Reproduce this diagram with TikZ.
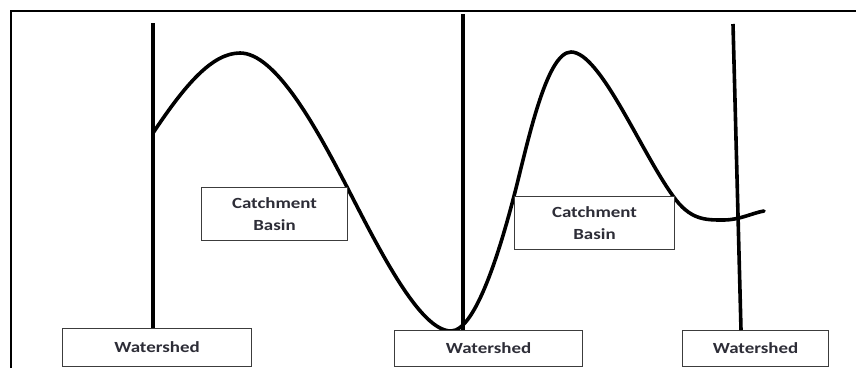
\documentclass[tikz,border=0pt]{standalone}
\usepackage{fontspec}
\newfontfamily\labfont[FakeStretch=1.22]{Carlito}
\definecolor{txt}{RGB}{45,45,55}
\definecolor{boxline}{RGB}{60,60,60}
\begin{document}
\begin{tikzpicture}[x=1pt,y=-1pt,
  lbl/.style={draw=boxline,line width=1pt,fill=white,font=\labfont\bfseries\fontsize{15.5}{22}\selectfont,text=txt,align=center,inner sep=0pt,anchor=north west},
  ridge/.style={line width=3.6pt},
  curve/.style={line width=3.6pt,line cap=round,line join=round}]
\useasboundingbox (0,0) rectangle (856,368);
\fill[white] (0,0) rectangle (856,368);
% frame
\draw[line width=2pt] (11,368) -- (11,11) -- (856,11);
% curve
\draw[curve] (153,133) .. controls (185,85) and (212,53) .. (240,53)
  .. controls (275,53) and (315,125) .. (347,187)
  .. controls (380,251) and (420,331) .. (451,331)
  .. controls (476,331) and (501,246) .. (514,196)
  .. controls (527,146) and (546,52) .. (571,52)
  .. controls (600,52) and (640,150) .. (673,196)
  .. controls (690,220) and (705,220) .. (723,220)
  .. controls (740,220) and (752,213) .. (764,211);
% boxes
\node[lbl,minimum width=146pt,minimum height=53pt] (cb1) at (201,187) {Catchment\\Basin};
\node[lbl,minimum width=160pt,minimum height=53pt] (cb2) at (514,196) {Catchment\\Basin};
\node[lbl,minimum width=189pt,minimum height=38pt] (ws1) at (62,328) {Watershed};
\node[lbl,minimum width=188pt,minimum height=36pt] (ws2) at (394,330) {Watershed};
\node[lbl,minimum width=146pt,minimum height=36pt] (ws3) at (682,330) {Watershed};
% watershed lines
\coordinate (t1) at (153,23);
\coordinate (t2) at (463,14);
\coordinate (t3) at (733,24);
\draw[ridge] (t1) -- (t1 |- ws1.north);
\draw[ridge] (t2) -- (t2 |- ws2.north);
\draw[ridge] (t3) -- (741,0 |- ws3.north);
\end{tikzpicture}
\end{document}
